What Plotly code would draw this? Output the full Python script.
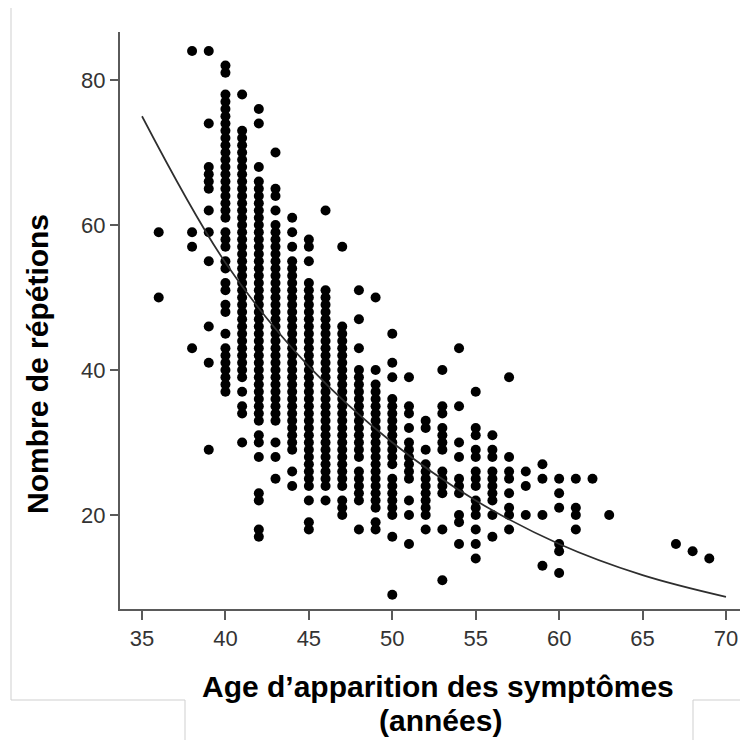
import plotly.graph_objects as go

# ---- data ----
# each age -> list of repeat counts; tuples (lo, hi) are solid runs of consecutive integer values
ages = [36, 38, 39, 40, 41, 42, 43, 44, 45, 46, 47, 48, 49, 50, 51, 52,
        53, 54, 55, 56, 57, 58, 59, 60, 61, 62, 63, 67, 68, 69]
repeats = [
    [59, 50],
    [84, 59, 57, 43],
    [84, 74, 68, 67, 66, 65, 62, 59, 55, 46, 41, 29],
    [82, 81, (61, 78), (57, 59), 55, 54, 52, 51, 49, 48, 45, (37, 43)],
    [78, (39, 73), 37, 35, 34, 30],
    [76, 74, 68, (33, 66), 31, 30, 28, 23, 22, 18, 17],
    [70, 65, 64, 62, (33, 60), 30, 28, 25],
    [61, 59, 57, (29, 55), 26, 24],
    [58, 57, 55, (24, 52), 22, 19, 18],
    [62, (24, 51), 22],
    [57, (24, 46), 22, 21, 20],
    [51, 47, 43, (28, 40), (22, 26), 18],
    [50, 40, 38, (21, 37), 19, 18],
    [45, 41, 39, (27, 36), (20, 25), 17, 9],
    [39, 35, 34, 32, (25, 30), 22, 20, 16],
    [33, 32, 29, (20, 27), 18],
    [40, 35, 34, (29, 32), (23, 26), 18, 11],
    [43, 35, 30, 28, 25, 24, 23, 20, 19, 16],
    [37, 32, 31, 29, 28, 26, 25, 24, 22, 21, 20, 18, 16, 14],
    [31, 29, 28, 26, 25, 24, 23, 22, 20, 17],
    [39, 28, 26, 25, 23, 21, 20, 18],
    [26, 24, 20],
    [27, 25, 20, 13],
    [25, 23, 21, 16, 15, 12],
    [25, 21, 20, 18],
    [25],
    [20],
    [16],
    [15],
    [14],
]

# fitted curve, read at 5-year steps
curve_age = [35, 40, 45, 50, 55, 60, 65, 70]
curve_rep = [75.0, 54.8, 40.5, 30.0, 22.0, 16.0, 11.7, 8.7]

x_ticks = [35, 40, 45, 50, 55, 60, 65, 70]
y_ticks = [20, 40, 60, 80]

x_title_1 = "Age d\u2019apparition des symptômes"
x_title_2 = "(années)"
y_title = "Nombre de répétions"

# ---- expand runs into points ----
px, py = [], []
for a, vals in zip(ages, repeats):
    for v in vals:
        if isinstance(v, tuple):
            for k in range(v[0], v[1] + 1):
                px.append(a)
                py.append(k)
        else:
            px.append(a)
            py.append(v)

# the page body has an 8px margin, so the figure is 8px smaller and all
# reference pixel positions are shifted by 8
OFF = 8
W, H = 748 - OFF, 740 - OFF
L, T = 120 - OFF, 32 - OFF
R = W - (741 - OFF)
B = H - (609 - OFF)
PW, PH = W - L - R, H - T - B


def pxx(x):
    return (x - OFF - L) / PW


def pxy(y):
    return (H - B - (y - OFF)) / PH


fig = go.Figure()
fig.add_trace(go.Scatter(
    x=px, y=py, mode="markers",
    marker=dict(size=10, color="black", line=dict(width=0)),
    showlegend=False, hoverinfo="x+y"))
fig.add_trace(go.Scatter(
    x=curve_age, y=curve_rep, mode="lines",
    line=dict(color="#2e2e2e", width=1.7, shape="spline", smoothing=1.0),
    showlegend=False, hoverinfo="skip"))

axis_col = "#5a5a5a"
tick_font = dict(family="Liberation Sans, Arial, sans-serif", size=22, color="#333333")
fig.update_xaxes(
    range=[33.68, 70.9], tickvals=x_ticks, showgrid=False, zeroline=False,
    showline=True, linecolor=axis_col, linewidth=2,
    ticks="outside", ticklen=9, tickwidth=2, tickcolor=axis_col,
    tickfont=tick_font)
fig.update_yaxes(
    range=[7.03, 86.62], tickvals=y_ticks, showgrid=False, zeroline=False,
    showline=True, linecolor=axis_col, linewidth=2,
    ticks="outside", ticklen=8, tickwidth=2, tickcolor=axis_col,
    tickfont=tick_font)

title_font = dict(family="Liberation Sans, Arial, sans-serif", size=30, color="black")
fig.add_annotation(text="<b>%s</b>" % y_title, xref="paper", yref="paper",
                   x=pxx(37), y=pxy(364), textangle=-90, showarrow=False,
                   xanchor="center", yanchor="middle", font=title_font)
fig.add_annotation(text="<b>%s</b>" % x_title_1, xref="paper", yref="paper",
                   x=pxx(438), y=pxy(686), showarrow=False,
                   xanchor="center", yanchor="middle", font=title_font)
fig.add_annotation(text="<b>%s</b>" % x_title_2, xref="paper", yref="paper",
                   x=pxx(440), y=pxy(720), showarrow=False,
                   xanchor="center", yanchor="middle", font=title_font)

# light grey frame lines of the original screenshot
frame = "#cfcfcf"
segs = [((11, 7), (11, 700)), ((11, 700), (185, 700)), ((185, 700), (185, 740)),
        ((693, 700), (748, 700)), ((693, 700), (693, 740))]
for (x0, y0), (x1, y1) in segs:
    fig.add_shape(type="line", xref="paper", yref="paper",
                  x0=pxx(x0), y0=pxy(y0), x1=pxx(x1), y1=pxy(y1),
                  line=dict(color=frame, width=1))

fig.update_layout(
    width=W, height=H, margin=dict(l=L, r=R, t=T, b=B),
    paper_bgcolor="white", plot_bgcolor="white")

fig.write_html("out.html")
